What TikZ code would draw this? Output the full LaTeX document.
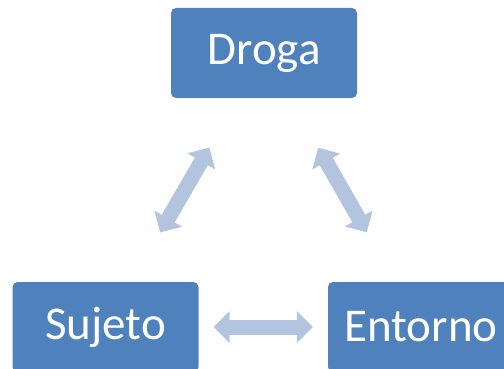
\documentclass[tikz,border=0pt]{standalone}
\usepackage{fontspec}
\setmainfont{Carlito}
\usepackage{xcolor}
\usetikzlibrary{arrows.meta,positioning}
\definecolor{boxblue}{HTML}{4F81BD}
\definecolor{arrowblue}{HTML}{B3C4DF}

\begin{document}
\begin{tikzpicture}[
  x=1pt,
  y=1pt,
  factor/.style={rectangle, rounded corners=5pt, fill=boxblue, text=white, minimum width=186pt, minimum height=90pt, inner sep=0pt, font=\fontsize{47}{52}\selectfont},
  link/.style={{Triangle[width=31pt,length=16pt]}-{Triangle[width=31pt,length=16pt]}, line width=15pt, color=arrowblue}
]
\useasboundingbox (0,0) rectangle (504,-369);
\node[factor] (droga) at (264,-53) {Droga};
\node[factor] (sujeto) at (105.5,-327) {Sujeto};
\node[factor] (entorno) at (421,-327) {Entorno};
\draw[link, shorten <=57pt, shorten >=57pt] (droga) -- (sujeto);
\draw[link, shorten <=57pt, shorten >=57pt] (droga) -- (entorno);
\draw[link, shorten <=15pt, shorten >=15pt] (sujeto) -- (entorno);
\end{tikzpicture}
\end{document}
